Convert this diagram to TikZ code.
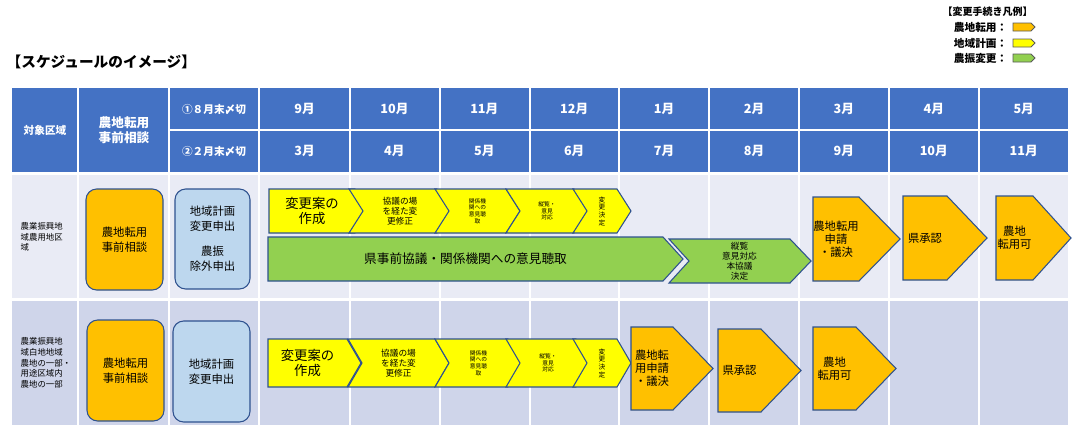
\documentclass[tikz,border=0pt]{standalone}
\usepackage{fontspec}
\setmainfont{Noto Sans CJK JP}
\usetikzlibrary{positioning}
\definecolor{hdrblue}{HTML}{4472C4}
\definecolor{rowone}{HTML}{E9EBF5}
\definecolor{rowtwo}{HTML}{CFD5EA}
\definecolor{edgeblue}{HTML}{2F528F}
\definecolor{orng}{HTML}{FFC000}
\definecolor{yel}{HTML}{FFFF00}
\definecolor{grn}{HTML}{92D050}
\definecolor{paleblue}{HTML}{BDD7EE}
\tikzset{
  hdr/.style={text=white,font=\bfseries\fontsize{9.5}{11}\selectfont,align=center},
  rowlab/.style={font=\fontsize{6.3}{8}\selectfont,align=left,anchor=west},
  roundbox/.style={draw=edgeblue,line width=0.8pt,rounded corners=8pt},
  shapeedge/.style={draw=edgeblue,line width=0.8pt},
  intext/.style={align=center,inner sep=0pt}
}
% arrow box: name, x1, x2, y1, y2, tip depth, notch depth, fill, font size
\newcommand\arrowbox[9]{%
  \filldraw[shapeedge,fill=#8] (#2,#4) -- ({#3-#6},#4) -- (#3,{(#4+#5)/2}) -- ({#3-#6},#5) -- (#2,#5) -- ({#2+#7},{(#4+#5)/2}) -- cycle;
  \node[intext,font=\fontsize{#9pt}{1.15\dimexpr#9pt\relax}\selectfont] (#1) at ({(#2+#3)/2+(#7-#6)/2},{(#4+#5)/2}) {\arrowtext};}
\begin{document}
\begin{tikzpicture}[x=0.75pt,y=-0.75pt]
\useasboundingbox (0,0) rectangle (1077,433);
% title and legend
\node[anchor=west,font=\bfseries\fontsize{11}{12}\selectfont] (title) at (2,62) {【スケジュールのイメージ】};
\node[anchor=west,font=\bfseries\fontsize{7.5}{8}\selectfont] (legend) at (938,12) {【変更手続き凡例】};
\node[anchor=east,font=\bfseries\fontsize{8}{9}\selectfont] (lgA) at (1012,27) {農地転用：};
\node[anchor=east,font=\bfseries\fontsize{8}{9}\selectfont] (lgB) at (1012,43) {地域計画：};
\node[anchor=east,font=\bfseries\fontsize{8}{9}\selectfont] (lgC) at (1012,58) {農振変更：};
\filldraw[draw=gray!70!black,fill=orng,line width=0.6pt] (1013,23) -- (1031,23) -- (1035,27) -- (1031,31) -- (1013,31) -- cycle;
\filldraw[draw=gray!70!black,fill=yel,line width=0.6pt] (1013,39) -- (1031,39) -- (1035,43) -- (1031,47) -- (1013,47) -- cycle;
\filldraw[draw=gray!70!black,fill=grn,line width=0.6pt] (1013,54) -- (1031,54) -- (1035,58) -- (1031,62) -- (1013,62) -- cycle;
% table
\fill[hdrblue] (12,88) rectangle (1068,172);
\fill[rowone] (12,175) rectangle (1068,298);
\fill[rowtwo] (12,301) rectangle (1068,425);
\foreach \x in {78,169,259,350,440,530,619,709,799,889,979}
  \draw[white,line width=2pt] (\x,88) -- (\x,425);
\draw[white,line width=2pt] (169,130) -- (1068,130);
\draw[white,line width=2.5pt] (12,173.5) -- (1068,173.5);
\draw[white,line width=2.5pt] (12,299.5) -- (1068,299.5);
\node[hdr,font=\bfseries\fontsize{8}{9}\selectfont] (colarea) at (45,130) {対象区域};
\node[hdr] (colconsult) at (124,130) {農地転用\\事前相談};
\node[hdr,font=\bfseries\fontsize{8}{9}\selectfont] (dlA) at (214,109) {①８月末〆切};
\node[hdr,font=\bfseries\fontsize{8}{9}\selectfont] (dlB) at (214,151) {②２月末〆切};
\foreach \m [count=\i from 0] in {9,10,11,12,1,2,3,4,5}
  \node[hdr] (mA\i) at ({304.5+89.9*\i},109) {\m 月};
\foreach \m [count=\i from 0] in {3,4,5,6,7,8,9,10,11}
  \node[hdr] (mB\i) at ({304.5+89.9*\i},151) {\m 月};
\node[rowlab] (areaA) at (16,237) {農業振興地\\域農用地区\\域};
\node[rowlab] (areaB) at (16,363) {農業振興地\\域白地地域\\農地の一部・\\用途区域内\\農地の一部};
% row 1
\filldraw[roundbox,fill=orng] (86,189) rectangle (163,290);
\node[intext,font=\fontsize{8.5}{11}\selectfont] (consultA) at (124.5,239.5) {農地転用\\事前相談};
\filldraw[roundbox,fill=paleblue] (175,189) rectangle (250,289);
\node[intext,font=\fontsize{8.5}{11}\selectfont] (planA) at (212.5,239) {地域計画\\変更申出\\[8pt]農振\\除外申出};
\def\arrowtext{変更案の\\作成}\arrowbox{yA1}{269}{369}{189}{233}{14}{0}{yel}{10}
\def\arrowtext{協議の場\\を経た変\\更修正}\arrowbox{yA2}{349}{451}{189}{233}{14}{14}{yel}{6.5}
\def\arrowtext{関係機\\関への\\意見聴\\取}\arrowbox{yA3}{435}{520}{189}{233}{14}{14}{yel}{4.3}
\def\arrowtext{縦覧・\\意見\\対応}\arrowbox{yA4}{506}{588}{189}{233}{14}{14}{yel}{4.3}
\def\arrowtext{変\\更\\決\\定}\arrowbox{yA5}{573}{631}{189}{233}{14}{14}{yel}{5}
\def\arrowtext{県事前協議・関係機関への意見聴取}\arrowbox{gA1}{268}{683}{237}{281}{20}{0}{grn}{9.5}
\def\arrowtext{縦覧\\意見対応\\本協議\\決定}\arrowbox{gA2}{669}{811}{239}{283}{21}{20}{grn}{6.5}
\def\arrowtext{農地転用\\申請\\・議決}\arrowbox{oA1}{813}{900}{197}{281}{41}{0}{orng}{8.5}
\def\arrowtext{県承認}\arrowbox{oA2}{903}{987}{196}{280}{40}{0}{orng}{8.5}
\def\arrowtext{農地\\転用可}\arrowbox{oA3}{996}{1071}{196}{280}{38}{0}{orng}{8.5}
% row 2
\filldraw[roundbox,fill=orng] (87,320) rectangle (164,421);
\node[intext,font=\fontsize{8.5}{11}\selectfont] (consultB) at (125.5,370.5) {農地転用\\事前相談};
\filldraw[roundbox,fill=paleblue] (173,321) rectangle (250,422);
\node[intext,font=\fontsize{8.5}{11}\selectfont] (planB) at (211.5,371.5) {地域計画\\変更申出};
\def\arrowtext{変更案の\\作成}\arrowbox{yB1}{268}{361}{339}{387}{14}{0}{yel}{10}
\def\arrowtext{協議の場\\を経た変\\更修正}\arrowbox{yB2}{348}{449}{339}{387}{14}{14}{yel}{6.5}
\def\arrowtext{関係機\\関への\\意見聴\\取}\arrowbox{yB3}{435}{522}{339}{387}{14}{14}{yel}{4.3}
\def\arrowtext{縦覧・\\意見\\対応}\arrowbox{yB4}{506}{590}{339}{387}{14}{14}{yel}{4.3}
\def\arrowtext{変\\更\\決\\定}\arrowbox{yB5}{573}{631}{339}{387}{14}{14}{yel}{5}
\def\arrowtext{農地転\\用申請\\・議決}\arrowbox{oB1}{631}{713}{327}{410}{40}{0}{orng}{8.5}
\def\arrowtext{県承認}\arrowbox{oB2}{718}{801}{329}{412}{40}{0}{orng}{8.5}
\def\arrowtext{農地\\転用可}\arrowbox{oB3}{813}{896}{327}{410}{40}{0}{orng}{8.5}
\end{tikzpicture}
\end{document}
